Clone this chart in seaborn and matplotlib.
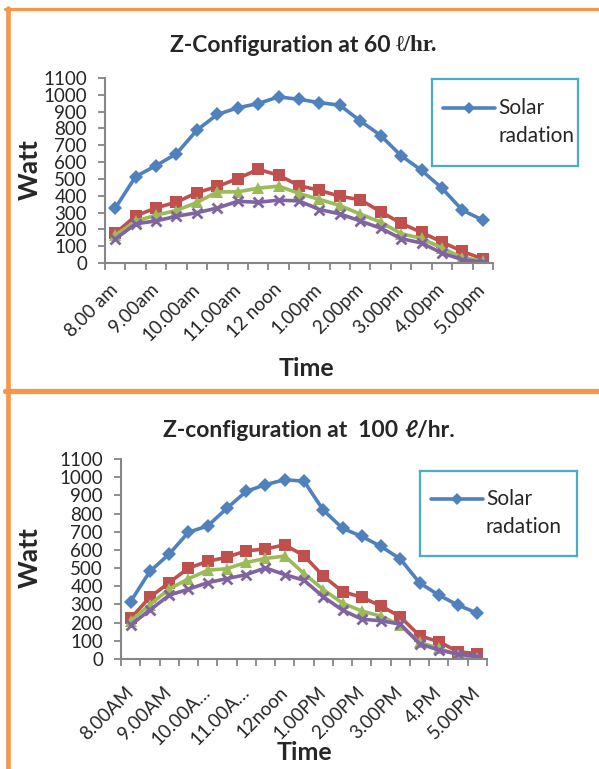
import matplotlib
matplotlib.use("Agg")
import matplotlib.pyplot as plt
from matplotlib.lines import Line2D
import seaborn as sns
import pandas as pd
import numpy as np

sns.set_theme(style="white")
plt.rcParams['font.family'] = ['Lato', 'DejaVu Sans']

# ---------------- data ----------------
n_points = 19
p1_ticklabels = ["8.00 am", "9.00am", "10.00am", "11.00am", "12 noon",
                 "1.00pm", "2.00pm", "3.00pm", "4.00pm", "5.00pm"]
p2_ticklabels = ["8.00AM", "9.00AM", "10.00A\u2026", "11.00A\u2026", "12noon",
                 "1.00PM", "2.00PM", "3.00PM", "4.PM", "5.00PM"]

p1_solar = [326, 514, 579, 650, 790, 883, 923, 948, 988, 973, 954, 938, 845, 758, 638, 551, 445, 314, 255]
p1_red = [176, 280, 328, 362, 418, 455, 502, 557, 522, 460, 432, 397, 376, 305, 236, 182, 125, 69, 24]
p1_green = [165, 248, 285, 312, 360, 423, 423, 445, 457, 414, 378, 342, 291, 243, 175, 146, 89, 32, 12]
p1_purple = [142, 233, 250, 278, 299, 327, 367, 361, 374, 369, 318, 292, 250, 207, 145, 119, 59, 20, 6]

p2_solar = [316, 482, 577, 697, 732, 829, 922, 959, 986, 978, 819, 719, 674, 619, 550, 419, 351, 296, 252]
p2_red = [224, 340, 420, 500, 537, 560, 595, 605, 628, 568, 456, 371, 339, 292, 232, 128, 95, 40, 29]
p2_green = [210, 298, 385, 441, 488, 497, 531, 553, 566, 470, 382, 307, 264, 235, 185, 91, 59, 22, 7]
p2_purple = [187, 269, 351, 384, 420, 442, 464, 501, 464, 433, 342, 269, 219, 210, 192, 84, 49, 27, 13]

series_names = ["Solar radiation", "S2", "S3", "S4"]
colors = ["#4F81BD", "#C0504D", "#9BBB59", "#8064A2"]
markers = ["D", "s", "^", "x"]
legend_label = "Solar\nradation"

fig = plt.figure(figsize=(5.99, 7.69), dpi=100)

# orange frame lines
orange = "#F79646"
fig.add_artist(Line2D([5/599, 1], [1 - 9/769, 1 - 9/769], color=orange, lw=2.3, transform=fig.transFigure))
fig.add_artist(Line2D([7.5/599, 7.5/599], [0, 1 - 7.5/769], color=orange, lw=3.3, transform=fig.transFigure))
fig.add_artist(Line2D([5/599, 1], [1 - 391/769, 1 - 391/769], color=orange, lw=3.8, transform=fig.transFigure))


def panel(rect, vals, ticklabels, title_parts, title_xy, watt_xy, time_xy, leg_rect, xpad):
    ax = fig.add_axes(rect)
    x = np.arange(n_points)
    for v, c, m, name in zip(vals, colors, markers, series_names):
        df = pd.DataFrame({"x": x, "y": v})
        if m == "x":
            sns.lineplot(data=df, x="x", y="y", ax=ax, color=c, lw=2.6, marker=m,
                         markersize=7, markeredgewidth=2.0, markeredgecolor=c, legend=False)
        else:
            ms = 7.5 if m == "D" else 8.5
            sns.lineplot(data=df, x="x", y="y", ax=ax, color=c, lw=2.6, marker=m,
                         markersize=ms, markeredgewidth=0, legend=False)
    ax.set_xlim(-0.5, n_points - 0.5)
    ax.set_ylim(0, 1100)
    ax.set_yticks(np.arange(0, 1101, 100))
    ax.set_yticklabels([str(t) for t in range(0, 1101, 100)], fontsize=13.5)
    ax.set_xticks(np.arange(0, n_points, 2))
    ax.set_xticklabels(ticklabels, rotation=45, ha="right", rotation_mode="anchor",
                       va="center", fontsize=13.5)
    ax.set_xticks(np.arange(-0.5, n_points, 1), minor=True)
    ax.tick_params(axis="x", which="major", length=0, pad=xpad)
    ax.tick_params(axis="x", which="minor", length=5, width=1.3, color="#868686", direction="out", bottom=True)
    ax.tick_params(axis="y", length=5, width=1.3, color="#868686", direction="out", left=True, pad=8)
    for s in ["top", "right"]:
        ax.spines[s].set_visible(False)
    for s in ["left", "bottom"]:
        ax.spines[s].set_color("#868686")
        ax.spines[s].set_linewidth(1.5)
    ax.set_xlabel("")
    ax.set_ylabel("")
    ax.grid(False)

    # titles / labels in figure pixels
    tx, ty = title_xy
    (main, tail, tail_serif) = title_parts
    fig.text(tx / 599, 1 - ty / 769, main, fontsize=16.5, fontweight="bold",
             ha="right", va="center")
    fig.text(tx / 599, 1 - ty / 769, tail, fontsize=16.5, fontweight="bold",
             ha="left", va="center",
             family=(["Liberation Serif", "DejaVu Serif"] if tail_serif else ["Lato", "DejaVu Sans"]))
    fig.text(watt_xy[0] / 599, 1 - watt_xy[1] / 769, "Watt", fontsize=19, fontweight="bold",
             rotation=90, ha="center", va="center")
    fig.text(time_xy[0] / 599, 1 - time_xy[1] / 769, "Time", fontsize=18, fontweight="bold",
             ha="center", va="center")

    # legend box (drawn manually: handle aligned with first text line)
    lx0, ly0, lx1, ly1 = leg_rect
    lax = fig.add_axes([lx0 / 599, 1 - ly1 / 769, (lx1 - lx0) / 599, (ly1 - ly0) / 769])
    lax.set_xlim(lx0, lx1)
    lax.set_ylim(ly1, ly0)
    lax.set_xticks([]); lax.set_yticks([])
    lax.set_facecolor("none")
    for s in lax.spines.values():
        s.set_color("#4BACC6"); s.set_linewidth(1.6)
    row1 = ly0 + 0.335 * (ly1 - ly0)
    lax.add_line(Line2D([lx0 + 11, lx0 + 63], [row1, row1], color=colors[0], lw=2.6, zorder=3))
    lax.plot([lx0 + 37], [row1], marker="D", color=colors[0], markersize=6.5, mew=0)
    first, second = legend_label.split("\n")
    lax.text(lx0 + 66, row1, first, fontsize=15, ha="left", va="center")
    lax.text(lx0 + 66, row1 + 28, second, fontsize=15, ha="left", va="center")
    return ax


panel([105/599, 1 - 263/769, 388/599, 185/769],
      [p1_solar, p1_red, p1_green, p1_purple], p1_ticklabels,
      ("Z-Configuration at 60 ", "\u2113/hr.", True), (396, 45), (30, 170), (306, 368),
      (432, 79, 578, 166), 17)

panel([121/599, 1 - 659/769, 366/599, 200/769],
      [p2_solar, p2_red, p2_green, p2_purple], p2_ticklabels,
      ("Z-configuration at  100 ", "\u2113/hr.", False), (404, 430), (30, 558), (304, 752),
      (420, 471, 577, 556), 22)

fig.savefig("out.png", dpi=100)
